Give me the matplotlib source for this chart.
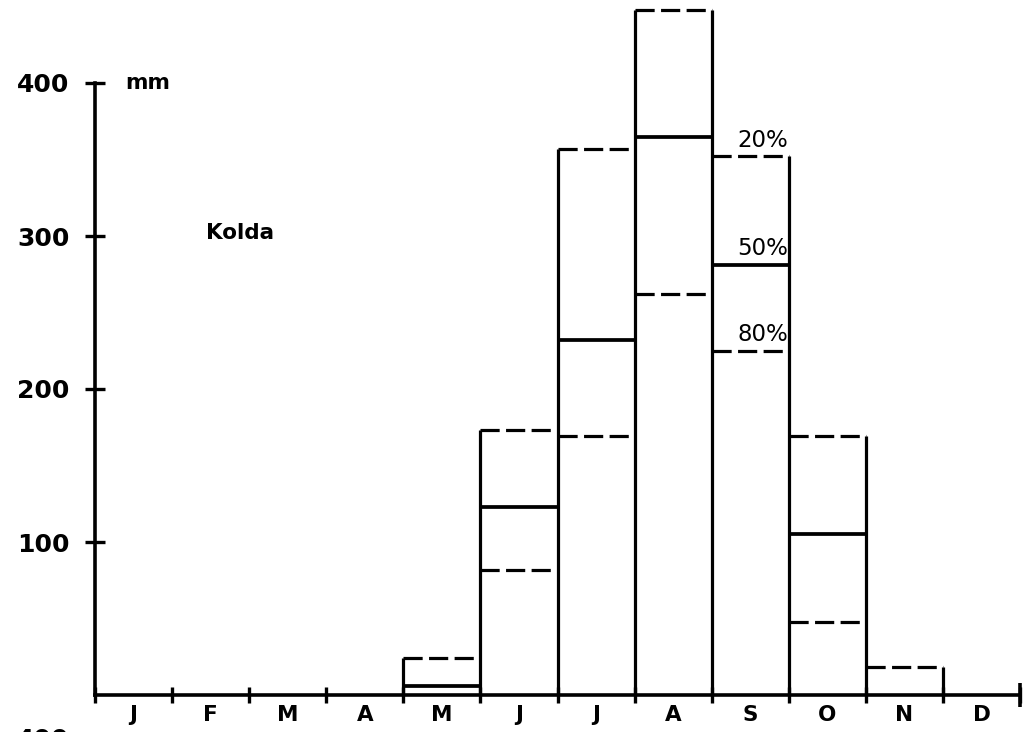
import numpy as np
import matplotlib
matplotlib.use('Agg')
import matplotlib.pyplot as plt

# Monthly rainfall at Kolda (mm), exceeded in 20%, 50% and 80% of years
months = ['J', 'F', 'M', 'A', 'M', 'J', 'J', 'A', 'S', 'O', 'N', 'D']
p20 = [0, 0, 0, 0, 24, 173, 357, 448, 352, 169, 18, 0]
p50 = [0, 0, 0, 0, 6, 123, 232, 365, 281, 105, 0, 0]
p80 = [0, 0, 0, 0, 0, 82, 169, 262, 225, 48, 0, 0]
y_ticks = [100, 200, 300, 400]

plt.rcParams['font.family'] = ['DejaVu Sans']

W, H = 1029, 732
fig = plt.figure(figsize=(W / 100, H / 100), dpi=100)
# axes placed so that the origin sits where it does on the scanned figure
ax = fig.add_axes([95 / W, 37 / H, 925 / W, 695 / H])
ax.set_xlim(0, 12)
ax.set_ylim(0, 695 / 1.53)
ax.patch.set_alpha(0)

lw = 2.3
dash = (0, (6, 2))

# bar outlines: vertical edges up to the 20% level
edges = np.arange(13)
heights = [max(p20[i - 1] if i > 0 else 0, p20[i] if i < 12 else 0) for i in edges]
for x, h in zip(edges, heights):
    if h > 0:
        ax.vlines(x, 0, h, color='black', lw=lw)

# percentile levels
for vals, ls, w in [(p20, dash, lw), (p50, '-', lw + 0.4), (p80, dash, lw)]:
    for i, v in enumerate(vals):
        if v > 0:
            ax.hlines(v, i, i + 1, color='black', lw=w, linestyles=ls)

# axes styling
for s in ['top', 'right']:
    ax.spines[s].set_visible(False)
ax.spines['left'].set_bounds(0, 400)
ax.spines['bottom'].set_bounds(0, 12)
for s in ['left', 'bottom']:
    ax.spines[s].set_linewidth(2.6)

ax.set_yticks(y_ticks)
ax.set_yticklabels([str(v) for v in y_ticks], fontsize=18, fontweight='bold')
ax.tick_params(axis='y', direction='inout', length=15, width=2.4, pad=11)

ax.set_xticks(np.arange(12) + 0.5)
ax.set_xticklabels(months, fontsize=15.5, fontweight='bold')
ax.set_xticks(np.arange(13), minor=True)
ax.tick_params(axis='x', which='major', length=0, pad=7)
ax.tick_params(axis='x', which='minor', direction='inout', length=11, width=2.4)
ax.vlines(12, -8, 8, color='black', lw=2.6, clip_on=False)

# annotations
ax.text(0.69, 400, 'mm', fontsize=15.5, fontweight='bold', ha='center', va='center')
ax.text(1.88, 302, 'Kolda', fontsize=15.5, fontweight='bold', ha='center', va='center')
ax.text(8.99, p20[8] + 3, '20%', fontsize=16.5, ha='right', va='bottom')
ax.text(8.99, p50[8] + 3, '50%', fontsize=16.5, ha='right', va='bottom')
ax.text(8.99, p80[8] + 3, '80%', fontsize=16.5, ha='right', va='bottom')

# the top of the next panel's axis label, cut off by the page edge as in the scan
fig.text(17 / W, 4 / H, '400', fontsize=18, fontweight='bold', ha='left', va='top')

fig.savefig('out.png', dpi=100, facecolor='white')
